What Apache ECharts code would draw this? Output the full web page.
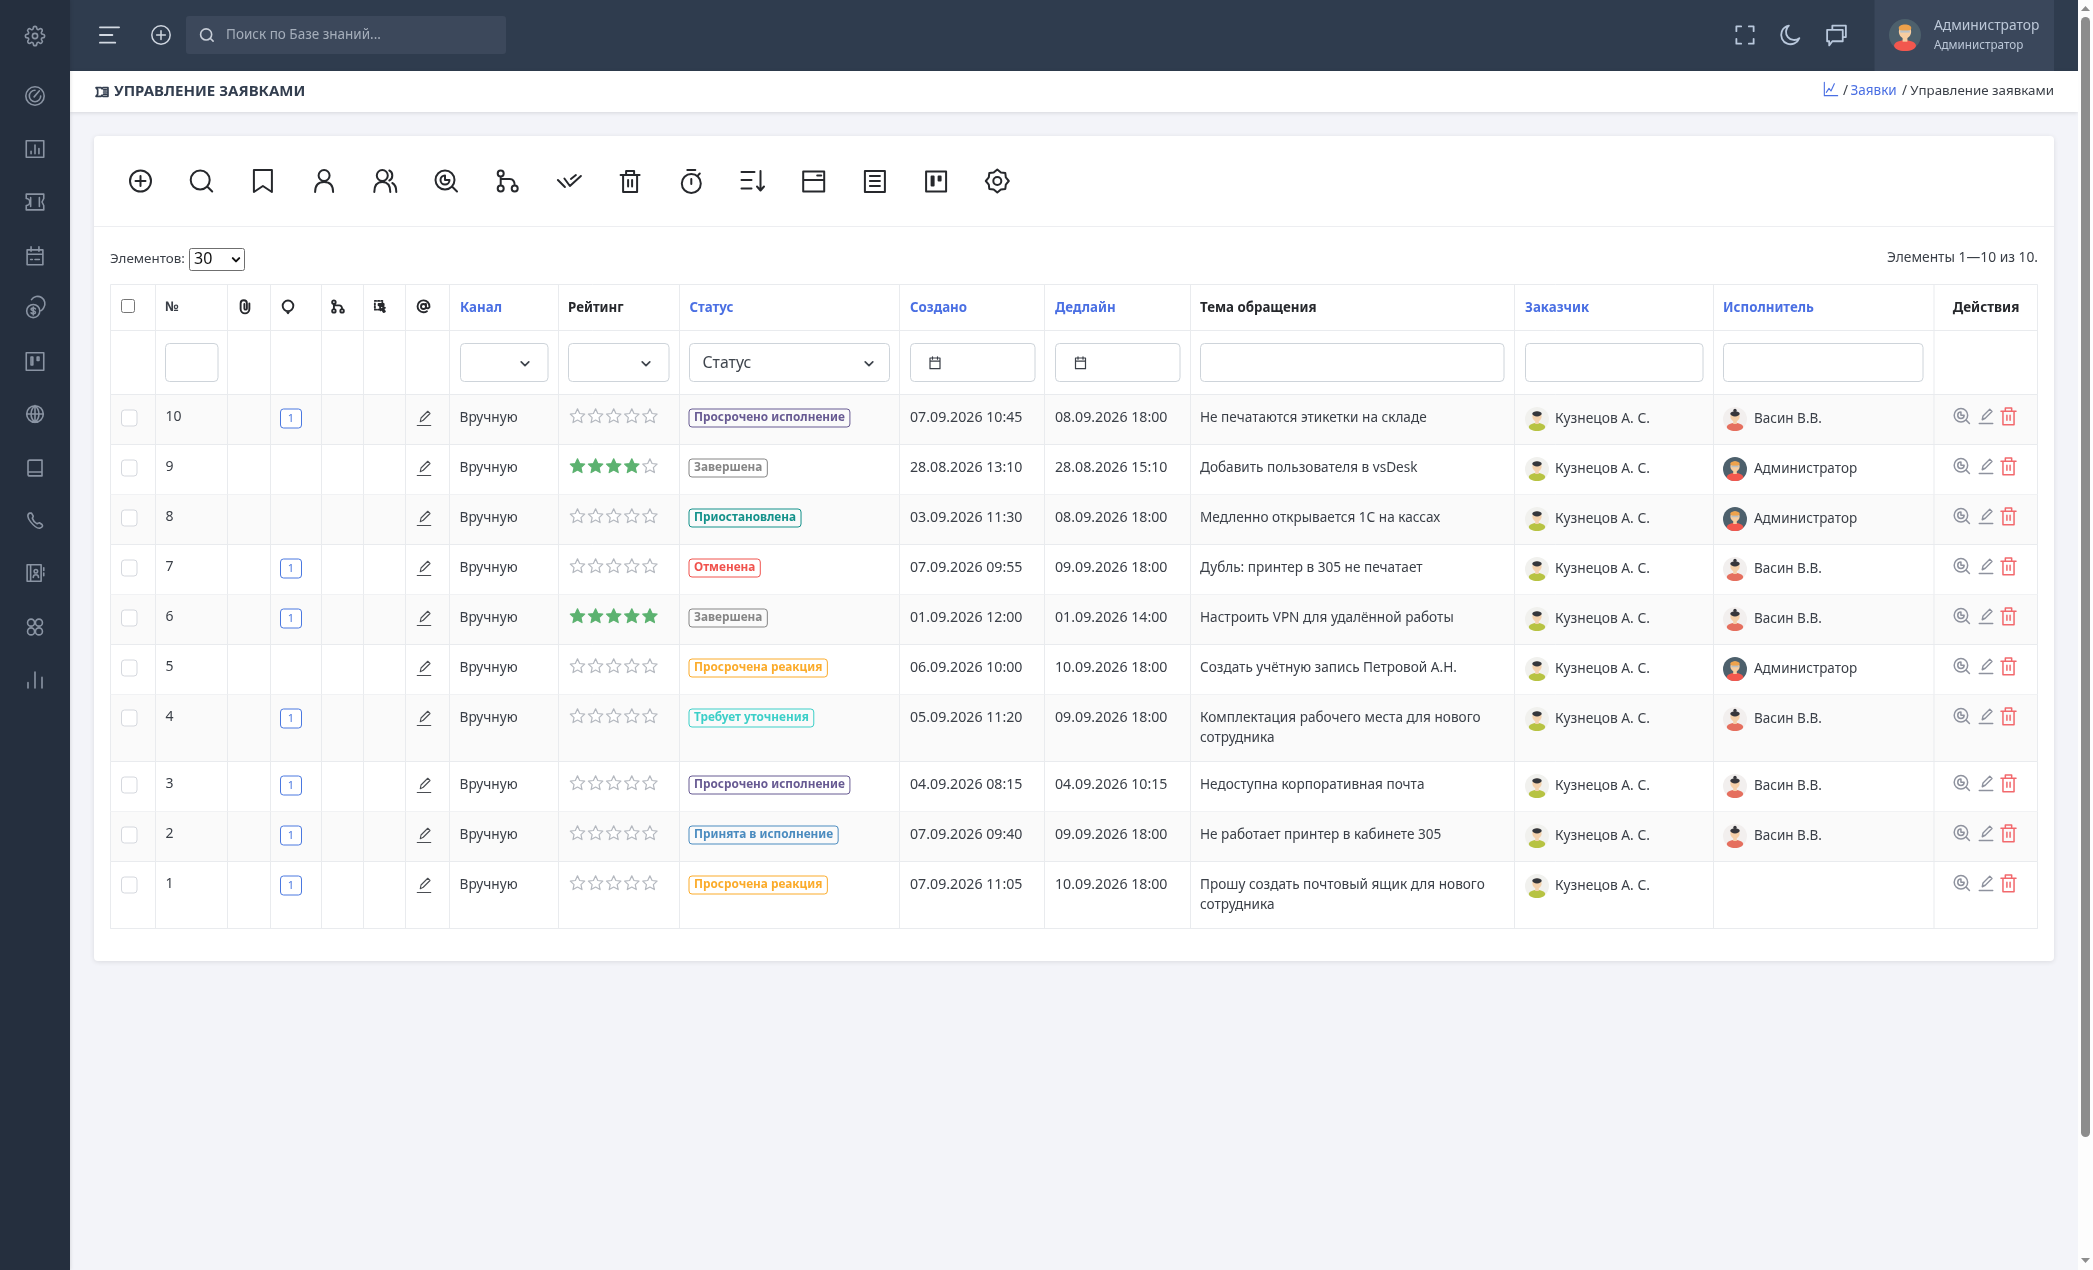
<!DOCTYPE html>
<html>
<head>
<meta charset="utf-8">
<title>Управление заявками</title>
<script src="https://cdn.jsdelivr.net/npm/echarts@6/dist/echarts.min.js"></script>
<style>
html,body{margin:0;padding:0;overflow:hidden;background:#f3f4f9}
#main{width:2093px;height:1270px}
</style>
</head>
<body>
<div id="main"></div>
<script>
// данные таблицы
var ticketIds = [10, 9, 8, 7, 6, 5, 4, 3, 2, 1];
var channels = ['Вручную', 'Вручную', 'Вручную', 'Вручную', 'Вручную', 'Вручную', 'Вручную', 'Вручную', 'Вручную', 'Вручную'];
var ratings = [0, 4, 0, 0, 5, 0, 0, 0, 0, 0];
var commentCounts = [1, 0, 0, 1, 1, 0, 1, 1, 1, 1];
var statuses = ['Просрочено исполнение', 'Завершена', 'Приостановлена', 'Отменена', 'Завершена', 'Просрочена реакция', 'Требует уточнения', 'Просрочено исполнение', 'Принята в исполнение', 'Просрочена реакция'];
var created = ['07.09.2026 10:45', '28.08.2026 13:10', '03.09.2026 11:30', '07.09.2026 09:55', '01.09.2026 12:00', '06.09.2026 10:00', '05.09.2026 11:20', '04.09.2026 08:15', '07.09.2026 09:40', '07.09.2026 11:05'];
var deadlines = ['08.09.2026 18:00', '28.08.2026 15:10', '08.09.2026 18:00', '09.09.2026 18:00', '01.09.2026 14:00', '10.09.2026 18:00', '09.09.2026 18:00', '04.09.2026 10:15', '09.09.2026 18:00', '10.09.2026 18:00'];
var subjects = ['Не печатаются этикетки на складе', 'Добавить пользователя в vsDesk', 'Медленно открывается 1С на кассах', 'Дубль: принтер в 305 не печатает', 'Настроить VPN для удалённой работы', 'Создать учётную запись Петровой А.Н.', 'Комплектация рабочего места для нового\nсотрудника', 'Недоступна корпоративная почта', 'Не работает принтер в кабинете 305', 'Прошу создать почтовый ящик для нового\nсотрудника'];
var customers = ['Кузнецов А. С.', 'Кузнецов А. С.', 'Кузнецов А. С.', 'Кузнецов А. С.', 'Кузнецов А. С.', 'Кузнецов А. С.', 'Кузнецов А. С.', 'Кузнецов А. С.', 'Кузнецов А. С.', 'Кузнецов А. С.'];
var assignees = ['Васин В.В.', 'Администратор', 'Администратор', 'Васин В.В.', 'Васин В.В.', 'Администратор', 'Васин В.В.', 'Васин В.В.', 'Васин В.В.', ''];
var sortableHeaders = ['Канал', 'Статус', 'Создано', 'Дедлайн', 'Заказчик', 'Исполнитель'];

var statusColors = {
  'Просрочено исполнение': '#675a92',
  'Завершена': '#858585',
  'Приостановлена': '#13918a',
  'Отменена': '#f0524d',
  'Просрочена реакция': '#fbab2a',
  'Требует уточнения': '#3ccfc8',
  'Принята в исполнение': '#4a8bbf'
};

var FONT = '"Noto Sans", sans-serif';
var LINE = '#e9ebee';
var BLUE = '#4a6fe3';
var TEXT = '#3a3f47';

// иконки, бокс 24x24
var ICONS = {
  plus: 'M12 1.500a10.500 10.500 0 1 0 0 21a10.500 10.500 0 1 0 0-21zM12 7v10M7 12h10',
  search: 'M10.500 1.500a9.500 9.500 0 1 0 0 19a9.500 9.500 0 1 0 0-19zM17.500 17.500l5 5',
  bookmark: 'M3 1h18v22l-9-6-9 6z',
  user: 'M12 1a5.500 5.500 0 1 0 0 11a5.500 5.500 0 1 0 0-11zM3 23c0-6 3-10 9-10s9 4 9 10',
  users: 'M9 1a5.500 5.500 0 1 0 0 11a5.500 5.500 0 1 0 0-11zM1 23c0-6 2.500-10 8-10s8 4 8 10M16 1.500c4 1.500 4 8.500 0 10M19 14c3 1.500 4 5 4 9',
  eye: 'M10.500 1.500a9.500 9.500 0 1 0 0 19a9.500 9.500 0 1 0 0-19zM17.500 17.500l5 5M10.500 6.500a4.500 4.500 0 1 0 4.500 4.500h-4.500z',
  branch: 'M5 1.500a3 3 0 1 0 0 6a3 3 0 1 0 0-6zM5 16.500a3 3 0 1 0 0 6a3 3 0 1 0 0-6zM19 16.500a3 3 0 1 0 0 6a3 3 0 1 0 0-6zM5 7.500v9M5 10h9c3 0 5 2 5 6.500',
  checks: 'M1 11l7 7M7.500 9.500l5.500 7.500 11-10M14 10l5-4',
  trash: 'M2.500 6h19M8 6V2h8v4M5 6v17h14V6M10 11v6.500M14 11v6.500',
  timer: 'M12 5a9.500 9.500 0 1 0 0 19a9.500 9.500 0 1 0 0-19zM8 1h8M12 10v5M19 6l1.500-1.500',
  sort: 'M1 3h13M1 11h10M1 19.500h10M20 2v19M16.500 17.500l3.500 4 3.500-4',
  windowBox: 'M1.500 2.500h21v20h-21zM1.500 11h21M15.500 6.500h4',
  doc: 'M2 2h20v21H2zM7 7h10M7 12h10M7 17h10',
  kanban: 'M2 2.500h20v20H2zM7.500 7.500h2v9h-2zM14.500 7.500h2v4h-2z',
  gearStar: 'M12 .500L15.600 3.500 20 4 20.500 8.400 23.500 12 20.500 15.600 20 20 15.600 20.500 12 23.500 8.400 20.500 4 20 3.500 15.600 .500 12 3.500 8.400 4 4 8.400 3.500zM12 8a4 4 0 1 0 0 8a4 4 0 1 0 0-8z',
  gear: 'M12 15a3 3 0 1 0 0-6 3 3 0 0 0 0 6zM19.4 15a1.65 1.65 0 0 0 .33 1.82l.06.06a2 2 0 1 1-2.83 2.83l-.06-.06a1.65 1.65 0 0 0-1.82-.33 1.65 1.65 0 0 0-1 1.51V21a2 2 0 0 1-4 0v-.09A1.65 1.65 0 0 0 9 19.4a1.65 1.65 0 0 0-1.82.33l-.06.06a2 2 0 1 1-2.83-2.83l.06-.06a1.65 1.65 0 0 0 .33-1.82 1.65 1.65 0 0 0-1.51-1H3a2 2 0 0 1 0-4h.09A1.65 1.65 0 0 0 4.6 9a1.65 1.65 0 0 0-.33-1.82l-.06-.06a2 2 0 1 1 2.83-2.83l.06.06a1.65 1.65 0 0 0 1.82.33H9a1.65 1.65 0 0 0 1-1.51V3a2 2 0 0 1 4 0v.09a1.65 1.65 0 0 0 1 1.51 1.65 1.65 0 0 0 1.82-.33l.06-.06a2 2 0 1 1 2.83 2.83l-.06.06a1.65 1.65 0 0 0-.33 1.82V9a1.65 1.65 0 0 0 1.51 1H21a2 2 0 0 1 0 4h-.09a1.65 1.65 0 0 0-1.51 1z',
  gauge: 'M12 1.500a10.500 10.500 0 1 0 0 21a10.500 10.500 0 1 0 0-21zM12 5.500a6.500 6.500 0 1 0 6.500 6.500M11 13l6-7',
  chartBox: 'M2 2.500h20v19H2zM7.500 17.500v-3M12 17.500v-10M16.500 17.500v-6',
  ticket: 'M2 3h20v5l-2 4 2 4v5H2v-5a4 4 0 0 0 0-8zM7 7v10M17 7v10',
  ticketWide: 'M1 4h9.500l1.500 2 1.500-2H23v16h-9.500L12 18l-1.500 2H1l3-4v-8zM15 8h5M15 12h5M15 16h5',
  calendar: 'M3 5h18v17H3zM3 10h18M7.500 1.500v5M16.500 1.500v5M7 16h2M12 16h5',
  calendarSmall: 'M4 4h16v17H4zM4 9h16M8 2v4M16 2v4',
  money: 'M10 8a7.500 7.500 0 1 0 0 15a7.500 7.500 0 1 0 0-15zM8 2.500a8 8 0 0 1 14 9c-1 2-2 3-3 3.500M10 11v9M12.500 13c-1-1.500-5-1.500-5 .5s5 1.500 5 3.500-4 2-5 .5',
  globe: 'M12 2.500a9.500 9.500 0 1 0 0 19a9.500 9.500 0 1 0 0-19zM2.500 12h19M12 2.500v19M12 2.500c-6 5-6 14 0 19M12 2.500c6 5 6 14 0 19',
  book: 'M4 5a2 2 0 0 1 2-2h14v18H6a2 2 0 0 1-2-2zM4 16.500h16',
  phone: 'M6 3c-3 1-3 5 1 10s8 8 11 7 3-3 2-4l-3-2c-1 0-2 1-3 1-2-1-4-3-5-6 0-1 1-1.500 1-2.500L8 3z',
  contacts: 'M3 2.500h16v19H3zM7 2.500v19M13 8a2 2 0 1 0 0 4a2 2 0 1 0 0-4zM10 17c0-4 6-4 6 0M22 6v3M22 12v3',
  apps: 'M7.500 3a4 4 0 1 0 0 8a4 4 0 1 0 0-8zM16.500 3a4 4 0 1 0 0 8a4 4 0 1 0 0-8zM7.500 13a4 4 0 1 0 0 8a4 4 0 1 0 0-8zM16.500 13a4 4 0 1 0 0 8a4 4 0 1 0 0-8z',
  bars: 'M4 21v-6M12 21V3M20 21V9',
  menu: 'M2 4h20M2 12h13M2 20h16',
  chevron: 'M5 9l7 7 7-7',
  fullscreen: 'M3 8V3h5M16 3h5v5M21 16v5h-5M8 21H3v-5',
  moon: 'M20 15A9 9 0 1 1 10 3a7.500 7.500 0 0 0 10 12z',
  chat: 'M8 7V3h13v11h-3M3 7h15v11H8l-3 4v-4H3z',
  lineChart: 'M2 2v20h20M5 17l4-6 3 4 5-11',
  pencil: 'M3 22h18M7 17l1-5L17 3l3 3-9 9z',
  clip: 'M19 7v9a7 7 0 0 1-14 0V7a5 5 0 0 1 10 0v8a2 2 0 0 1-4 0V8',
  comment: 'M12 3a8 8 0 1 0 0 16a8 8 0 1 0 0-16zM10 19l2 3 2-3',
  copyCursor: 'M3 3h2M8 3h2M13 3h2M3 7v2M3 12v2M3 17h2M8 17h2M15 6v2M9 8h8v2H9zM11 10l8 4-3 1 3 5-2 1-3-5-2 2z',
  at: 'M12 8a4 4 0 1 0 0 8a4 4 0 1 0 0-8zM16 8v5a3 3 0 0 0 5.500 0v-1a9.500 9.500 0 1 0-4 7.500',
  star: 'M12 2.500l2.900 6.200 6.700.8-5 4.600 1.400 6.700L12 17.400l-6 3.400 1.400-6.700-5-4.600 6.700-.8z'
};

function txt(s, x, y, o) {
  o = o || {};
  return {
    type: 'text',
    style: {
      text: s, x: x, y: y,
      fontFamily: o.family || FONT,
      fontSize: o.size || 13.6,
      fontWeight: o.weight || 400,
      fill: o.color || TEXT,
      align: o.align || 'left',
      verticalAlign: 'middle'
    }
  };
}
function box(x, y, w, h, fill, o) {
  o = o || {};
  return {
    type: 'rect',
    shape: { x: x, y: y, width: w, height: h, r: o.r || 0 },
    style: {
      fill: fill, stroke: o.stroke || null, lineWidth: o.lw || 1,
      shadowBlur: o.blur || 0, shadowColor: o.shadow || 'transparent', shadowOffsetY: o.dy || 0
    }
  };
}
function hline(x1, x2, y, c) {
  return { type: 'line', shape: { x1: x1, y1: y, x2: x2, y2: y }, style: { stroke: c || LINE, lineWidth: 1 } };
}
function vline(x, y1, y2, c) {
  return { type: 'line', shape: { x1: x, y1: y1, x2: x, y2: y2 }, style: { stroke: c || LINE, lineWidth: 1 } };
}
function icon(name, cx, cy, size, color, lw, fill) {
  var k = size / 24;
  return {
    type: 'path',
    x: cx - size / 2, y: cy - size / 2, scaleX: k, scaleY: k,
    shape: { pathData: ICONS[name] },
    style: { fill: fill || 'none', stroke: color, lineWidth: (lw || 1.5) / k, lineJoin: 'round', lineCap: 'round' }
  };
}
function dot(cx, cy, r, fill) {
  return { type: 'circle', shape: { cx: cx, cy: cy, r: r }, style: { fill: fill } };
}
function ell(cx, cy, rx, ry, fill) {
  return { type: 'ellipse', shape: { cx: cx, cy: cy, rx: rx, ry: ry }, style: { fill: fill } };
}
// аватар собран из кружков
var PEOPLE = {
  customer: { bg: '#f1f1ee', hair: '#34363b', skin: '#f4d2ae', shirt: '#b7c342' },
  assignee: { bg: '#f2efee', hair: '#36363b', skin: '#f5cfa8', shirt: '#e56f5e' },
  admin: { bg: '#4d606c', hair: '#eea24b', skin: '#f7cda0', shirt: '#f2574e' }
};
function avatar(kind, cx, cy, r) {
  var p = PEOPLE[kind], k = r / 12;
  var parts = [
    dot(cx, cy, r, p.bg),
    ell(cx, cy + 8 * k, 8.2 * k, 4 * k, p.shirt),
    box(cx - 1.8 * k, cy + 0.5 * k, 3.6 * k, 4.5 * k, p.skin),
    ell(cx, cy - 2.5 * k, 4.6 * k, 5 * k, p.skin),
    ell(cx, cy - 5.2 * k, 4.7 * k, 2.6 * k, p.hair)
  ];
  if (kind === 'assignee') parts.push(dot(cx, cy - 8.6 * k, 1.7 * k, p.hair));
  if (kind === 'admin') parts.push(box(cx - 3.6 * k, cy - 3.4 * k, 7.2 * k, 1.6 * k, '#b9c2c8'));
  return { type: 'group', children: parts };
}

// колонки и строки таблицы
var colX = [110.5, 155.5, 227.5, 270.5, 321.5, 363.5, 405.5, 449.5, 558.5, 679.5, 899.5, 1044.5, 1190.5, 1514.5, 1713.5, 1934, 2037.5];
var headTop = 284.5, filterTop = 330.5, rowsTop = 394.5;
var rowTops = [];
(function () {
  var y = rowsTop;
  subjects.forEach(function (s) {
    rowTops.push(y);
    y += s.indexOf('\n') >= 0 ? 67 : 50;
  });
  rowTops.push(y);
})();

function renderChrome() {
  var c = [];
  c.push(box(0, 0, 2093, 1270, '#f3f4f9'));
  // шапка и боковая панель
  c.push(box(70, 0, 2008, 71, '#2f3c4e'));
  c.push(box(70, 71, 2008, 41, '#ffffff', { blur: 4, shadow: 'rgba(0,0,0,0.12)', dy: 1 }));
  c.push(box(0, 0, 70, 1270, '#252f3e', { blur: 4, shadow: 'rgba(0,0,0,0.15)' }));
  c.push(box(1874.5, 0, 179.5, 71, '#3a475b'));
  var side = ['gear', 'gauge', 'chartBox', 'ticket', 'calendar', 'money', 'kanban', 'globe', 'book', 'phone', 'contacts', 'apps', 'bars'];
  var sideY = [36, 96, 149, 202, 256, 308, 361, 414, 468, 521, 573, 627, 680];
  side.forEach(function (n, i) { c.push(icon(n, 35, sideY[i], 21, '#8a94a3', 1.6)); });
  c.push(icon('menu', 109.5, 35, 23, '#d3d9e2', 1.8));
  c.push(icon('plus', 161, 35, 21, '#cfd6e0', 1.5));
  c.push(box(186, 16, 320, 38, '#3c485b', { r: 3 }));
  c.push(icon('search', 207, 35, 14, '#c8ced8', 1.6));
  c.push(txt('Поиск по Базе знаний...', 226, 35.5, { size: 13.5, color: '#a5aebb' }));
  c.push(icon('fullscreen', 1745, 35, 23, '#b9c8dc', 1.8));
  c.push(icon('moon', 1791, 35, 25, '#b9c8dc', 1.8));
  c.push(icon('chat', 1836.5, 35, 25, '#b9c8dc', 1.8));
  c.push(avatar('admin', 1905, 35, 16));
  c.push(txt('Администратор', 1934, 26.5, { size: 13.8, color: '#bcc8d8' }));
  c.push(txt('Администратор', 1934, 46, { size: 11.7, color: '#bcc8d8' }));
  // заголовок страницы и хлебные крошки
  c.push(icon('ticketWide', 102, 92, 13, '#333e4f', 1.7));
  c.push(txt('УПРАВЛЕНИЕ ЗАЯВКАМИ', 114, 92, { size: 15, weight: 700, color: '#333e4f' }));
  c.push(icon('lineChart', 1831, 89, 16, BLUE, 1.1));
  c.push(txt('/', 1843, 91.5, { size: 13.5 }));
  c.push(txt('Заявки', 1850.5, 91.5, { size: 13.5, color: BLUE }));
  c.push(txt('/', 1902, 91.5, { size: 13.5 }));
  c.push(txt('Управление заявками', 2054, 91.5, { size: 13.35, align: 'right' }));
  // карточка
  c.push(box(94, 136, 1960, 825, '#ffffff', { r: 4, blur: 5, shadow: 'rgba(0,0,0,0.10)', dy: 1 }));
  c.push(hline(94, 2054, 226.5, '#edeef1'));
  var tools = ['plus', 'search', 'bookmark', 'user', 'users', 'eye', 'branch', 'checks', 'trash', 'timer', 'sort', 'windowBox', 'doc', 'kanban', 'gearStar'];
  tools.forEach(function (n, i) { c.push(icon(n, 140.5 + i * 61.2, 181, 24, '#26282c', 2)); });
  // выбор количества элементов
  c.push(txt('Элементов:', 110, 259.5, { size: 13.4 }));
  c.push(box(189.5, 248.5, 55, 22, '#ffffff', { stroke: '#6f6f6f', r: 2 }));
  c.push(txt('30', 194, 259.5, { size: 16, color: '#111' }));
  c.push(icon('chevron', 236, 259.5, 11, '#111', 2));
  c.push(txt('Элементы 1—10 из 10.', 2038, 258, { size: 13.8, align: 'right' }));
  return c;
}

function renderTableHead() {
  var c = [];
  var bottom = rowTops[rowTops.length - 1];
  var right = colX[colX.length - 1];
  c.push(box(121.5, 299.5, 13, 13, '#ffffff', { stroke: '#767676', r: 2 }));
  c.push(txt('№', 165, 307.5, { size: 13.3, weight: 700 }));
  var hdrIcons = [['clip', 245, 15], ['comment', 288, 16], ['branch', 338, 14], ['copyCursor', 380.5, 15], ['at', 423.5, 15]];
  hdrIcons.forEach(function (h) { c.push(icon(h[0], h[1], 306.5, h[2], '#26282c', 1.9)); });
  var heads = [['Канал', 460], ['Рейтинг', 568], ['Статус', 689.5], ['Создано', 910], ['Дедлайн', 1055], ['Тема обращения', 1200], ['Заказчик', 1525], ['Исполнитель', 1723]];
  heads.forEach(function (h) {
    var sortable = sortableHeaders.indexOf(h[0]) >= 0;
    c.push(txt(h[0], h[1], 308, { size: 13.3, weight: 700, color: sortable ? BLUE : '#26282c' }));
  });
  c.push(txt('Действия', 1986, 308, { size: 13.5, weight: 700, color: '#26282c', align: 'center' }));
  // поля фильтров
  var inputs = [[165, 52.5], [460, 87.5], [568, 100.5], [689, 200], [910, 124.5], [1055, 124.5], [1200, 303.5], [1525, 177.5], [1723, 199.5]];
  inputs.forEach(function (f) { c.push(box(f[0] + 0.5, 343.5, f[1], 38, '#ffffff', { stroke: '#ced4da', r: 4 })); });
  [525, 646, 869].forEach(function (x) { c.push(icon('chevron', x, 363.5, 13, '#3f454d', 1.7)); });
  c.push(txt('Статус', 702.5, 363, { size: 15.8, color: '#3f454d' }));
  [935, 1080.5].forEach(function (x) { c.push(icon('calendarSmall', x, 363, 15, '#3a3f47', 1.2)); });
  // линии сетки
  c.push(hline(colX[0], right, headTop));
  c.push(hline(colX[0], right, filterTop));
  c.push(hline(colX[0], right, rowsTop));
  c.push(hline(colX[0], right, bottom));
  colX.forEach(function (x) { c.push(vline(x, headTop, rowsTop)); });
  return c;
}

function renderRow(params) {
  var i = params.dataIndex;
  var top = rowTops[i], bot = rowTops[i + 1];
  var c = [];
  if (i % 2 === 0) c.push(box(colX[0], top, colX[colX.length - 1] - colX[0], bot - top, '#fafafa'));
  c.push(hline(colX[0], colX[colX.length - 1], bot));
  colX.forEach(function (x) { c.push(vline(x, top, bot)); });

  var y = top + 23;
  c.push(box(121.5, top + 15.5, 15.5, 16, '#ffffff', { stroke: '#d5d8de', r: 3 }));
  c.push(txt(String(ticketIds[i]), 165.5, y, { size: 14 }));
  if (commentCounts[i]) {
    c.push(box(280.5, top + 14.5, 21, 19, '#ffffff', { stroke: '#4a78e0', r: 3 }));
    c.push(txt(String(commentCounts[i]), 291, top + 24.5, { size: 11, color: '#4a78e0', align: 'center' }));
  }
  c.push(icon('pencil', 424, top + 23.5, 18, '#4a4d52', 1.1));
  c.push(txt(channels[i], 459.5, y + 0.5, { size: 13.7 }));
  for (var s = 0; s < 5; s++) {
    var on = s < ratings[i];
    c.push(icon('star', 577.5 + s * 18.1, top + 21.5, 18, on ? '#5cb270' : '#b4b8bf', 1.2, on ? '#5cb270' : '#ffffff'));
  }
  var st = statuses[i], col = statusColors[st];
  c.push({
    type: 'text',
    style: {
      text: st, x: 689, y: top + 23.5, fontFamily: FONT, fontSize: 11.8, fontWeight: 700, fill: col,
      align: 'left', verticalAlign: 'middle',
      borderColor: col, borderWidth: 1, borderRadius: 3, padding: [3, 5, 3, 5]
    }
  });
  c.push(txt(created[i], 910, y + 0.5, { size: 14.2 }));
  c.push(txt(deadlines[i], 1055, y + 0.5, { size: 14.2 }));
  subjects[i].split('\n').forEach(function (line, k) {
    c.push(txt(line, 1200, y + 0.5 + k * 20, { size: 13.6 }));
  });
  c.push(avatar('customer', 1537, top + 24.5, 12));
  c.push(txt(customers[i], 1555, top + 25, { size: 13.8 }));
  if (assignees[i]) {
    c.push(avatar(assignees[i] === 'Администратор' ? 'admin' : 'assignee', 1735, top + 24.5, 12));
    c.push(txt(assignees[i], 1754, top + 25, { size: 13.5 }));
  }
  c.push(icon('eye', 1962, top + 21.5, 17, '#8e929e', 1.5));
  c.push(icon('pencil', 1986, top + 21.5, 18, '#8e929e', 1.4));
  c.push(icon('trash', 2008.5, top + 21.5, 19, '#f2686c', 1.5));
  return { type: 'group', children: c };
}

function renderScrollbar() {
  return [
    box(2078, 0, 15, 1270, '#fdfdfd'),
    box(2081, 17, 9, 1120, '#8c8c8c', { r: 4.5 }),
    { type: 'polygon', shape: { points: [[2085.5, 6], [2081, 11], [2090, 11]] }, style: { fill: '#8c8c8c' } },
    { type: 'polygon', shape: { points: [[2081, 1258], [2090, 1258], [2085.5, 1263]] }, style: { fill: '#8c8c8c' } }
  ];
}

var myChart = echarts.init(document.getElementById('main'), null, { renderer: 'canvas' });
var option = {
  animation: false,
  backgroundColor: '#f3f4f9',
  tooltip: { show: false },
  series: [
    {
      type: 'custom', name: 'page', coordinateSystem: 'none', silent: true, z: 1,
      data: [[0]],
      renderItem: function () { return { type: 'group', children: renderChrome() }; }
    },
    {
      type: 'custom', name: 'rows', coordinateSystem: 'none', silent: true, z: 2,
      data: ticketIds.map(function (id) { return [id]; }),
      renderItem: renderRow
    },
    {
      type: 'custom', name: 'head', coordinateSystem: 'none', silent: true, z: 3,
      data: [[0]],
      renderItem: function () { return { type: 'group', children: renderTableHead() }; }
    },
    {
      type: 'custom', name: 'scroll', coordinateSystem: 'none', silent: true, z: 4,
      data: [[0]],
      renderItem: function () { return { type: 'group', children: renderScrollbar() }; }
    }
  ]
};
myChart.setOption(option);
</script>
</body>
</html>
